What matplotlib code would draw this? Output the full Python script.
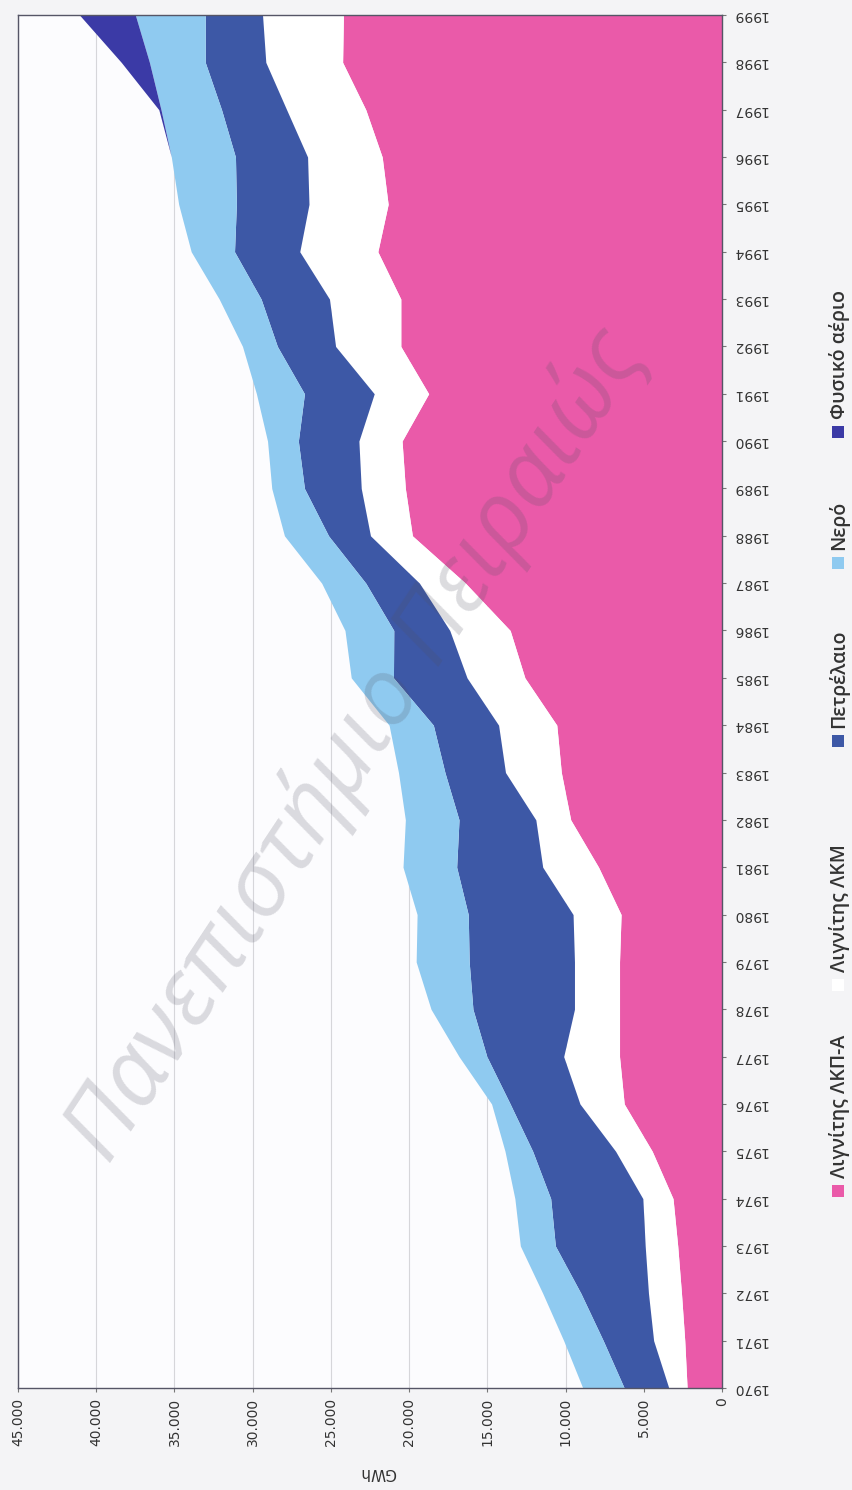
import numpy as np
import matplotlib.pyplot as plt
from matplotlib.patches import Rectangle

# Παραγωγή ηλεκτρικής ενέργειας ανά πηγή (GWh), 1970-1999
years = list(range(1970, 2000))
lkpa = [2230, 2380, 2590, 2830, 3130, 4460, 6250, 6550, 6550, 6550,
        6450, 7890, 9670, 10270, 10560, 12600, 13540, 16400, 19790, 20240,
        20450, 18750, 20530, 20530, 22000, 21340, 21720, 22770, 24250, 24200]
lkm = [1170, 1990, 2110, 2080, 1930, 2340, 2830, 3570, 2880, 2880,
       3070, 3570, 2230, 3570, 3720, 3700, 3860, 2940, 2680, 2820,
       2760, 3480, 4170, 4560, 4990, 5060, 4770, 5060, 4910, 5170]
oil = [2850, 3220, 4320, 5740, 5890, 5300, 4460, 4910, 6490, 6730,
       6700, 5500, 4910, 3870, 4170, 4700, 3580, 3430, 2680, 3630,
       3870, 4460, 3720, 4370, 4170, 4640, 4610, 4160, 3870, 3660]
hydro = [2650, 2530, 2440, 2240, 2290, 1770, 1190, 1780, 2680, 3390,
         3270, 3430, 3430, 2970, 2830, 2700, 3120, 2820, 2820, 2090,
         1970, 3070, 2230, 2680, 2770, 3690, 4100, 3870, 3570, 4470]
gas = [0, 0, 0, 0, 0, 0, 0, 0, 0, 0,
       0, 0, 0, 0, 0, 0, 0, 0, 0, 0,
       0, 0, 0, 0, 0, 0, 0, 140, 1800, 3570]

labels = ['Λιγνίτης ΛΚΠ-Α', 'Λιγνίτης ΛΚΜ', 'Πετρέλαιο', 'Νερό', 'Φυσικό αέριο']
colors = ['#ea5aa9', '#ffffff', '#3d58a6', '#8fcaf0', '#3b3aa6']
gwh_ticks = [0, 5000, 10000, 15000, 20000, 25000, 30000, 35000, 40000, 45000]

W, H = 852, 1490
fx = lambda px: px / W
fy = lambda py: 1 - py / H

fig = plt.figure(figsize=(W / 100, H / 100), dpi=100, facecolor='#f4f4f6')
# το διάγραμμα είναι γυρισμένο κατά 90°: έτη στον κατακόρυφο άξονα
ax = fig.add_axes([fx(18), fy(1388), fx(722) - fx(18), fy(15) - fy(1388)])
ax.set_facecolor('#fcfcfe')

series = [lkpa, lkm, oil, hydro, gas]
base = np.zeros(len(years))
for vals, col in zip(series, colors):
    top = base + np.array(vals)
    ax.fill_betweenx(years, base, top, color=col, lw=0, zorder=2)
    base = top

ax.set_xlim(45000, 0)
ax.set_ylim(1970, 1999)
ax.set_xticks(gwh_ticks)
ax.set_xticklabels([f'{v:,}'.replace(',', '.') for v in gwh_ticks],
                   rotation=90, fontsize=10, color='#333333')
ax.yaxis.tick_right()
ax.set_yticks(years)
ax.set_yticklabels([str(y) for y in years], rotation=180, va='center',
                   fontsize=10, color='#333333')
ax.tick_params(axis='both', length=3, color='#777777', pad=4)
ax.grid(axis='x', color='#d6d6da', lw=0.8, zorder=0)
ax.set_axisbelow(True)
for sp in ax.spines.values():
    sp.set_color('#555566')
    sp.set_linewidth(1)

fig.text(fx(378), fy(1472), 'GWh', rotation=180, ha='center', va='center',
         fontsize=11, color='#333333')

# υπόμνημα, κατακόρυφα στη δεξιά πλευρά
leg_sq = [1191, 985, 741, 563, 432]
for lab, col, sq in zip(labels, colors, leg_sq):
    fig.add_artist(Rectangle((fx(832), fy(sq + 6)), 12 / W, 12 / H,
                             transform=fig.transFigure, color=col, lw=0))
    fig.text(fx(839), fy(sq - 13), lab, rotation=90, ha='center', va='bottom',
             fontsize=14, weight='semibold', color='#333333',
             family=['Open Sans', 'DejaVu Sans'])

# υδατογράφημα
fig.text(fx(355), fy(745), 'Πανεπιστήμιο Πειραιώς', rotation=56.5,
         ha='center', va='center', fontsize=67, style='italic',
         color='#505060', alpha=0.2, family=['Open Sans', 'DejaVu Sans'])

fig.savefig('out.png', dpi=100, facecolor=fig.get_facecolor())
